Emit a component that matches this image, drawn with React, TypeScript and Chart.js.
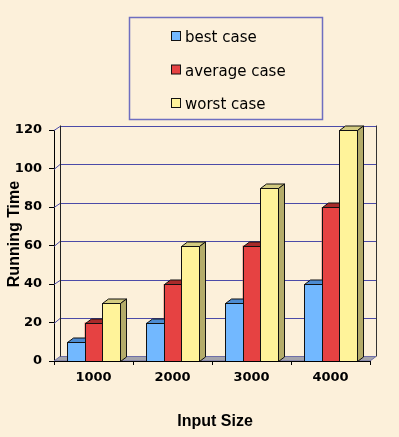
import React, { useEffect, useRef } from "react";
import { Chart, registerables } from "chart.js";

Chart.register(...registerables);

const categories = ["1000", "2000", "3000", "4000"];
const bestCase = [10, 20, 30, 40];
const averageCase = [20, 40, 60, 80];
const worstCase = [30, 60, 90, 120];
const seriesNames = ["best case", "average case", "worst case"];
const yTicks = [0, 20, 40, 60, 80, 100, 120];

const BG = "#FCF0DA";
const GRID = "#4B4BA8";
const frontColors = ["#72B8FF", "#E64242", "#FFF39A"];
const topColors = ["#4C8BD2", "#A82A2A", "#D3CB80"];
const sideColors = ["#3F78BA", "#8E2222", "#B4AC6A"];
const DX = 6;
const DY = -4.5;

const crisp = (v: number) => Math.round(v) + 0.5;

const threeD = {
  id: "threeD",
  beforeDraw(chart: any) {
    const ctx = chart.ctx;
    ctx.save();
    ctx.fillStyle = BG;
    ctx.fillRect(0, 0, chart.width, chart.height);
    ctx.restore();
  },
  beforeDatasetsDraw(chart: any) {
    const ctx = chart.ctx;
    const { left, right, top, bottom } = chart.chartArea;
    const ys = chart.scales.y;
    ctx.save();
    ctx.lineWidth = 1;
    // floor
    ctx.beginPath();
    ctx.moveTo(left, bottom);
    ctx.lineTo(right, bottom);
    ctx.lineTo(right + DX, bottom + DY);
    ctx.lineTo(left + DX, bottom + DY);
    ctx.closePath();
    ctx.fillStyle = "#A4A4AC";
    ctx.fill();
    ctx.strokeStyle = "#6E6EA8";
    ctx.stroke();
    // gridlines (side wall + back wall)
    ctx.strokeStyle = GRID;
    for (const v of yTicks) {
      if (v === 0) continue;
      const yf = ys.getPixelForValue(v);
      ctx.beginPath();
      ctx.moveTo(left, crisp(yf));
      ctx.lineTo(left + DX, crisp(yf + DY));
      ctx.lineTo(right + DX, crisp(yf + DY));
      ctx.stroke();
    }
    // back wall verticals
    ctx.strokeStyle = "#222";
    ctx.beginPath();
    ctx.moveTo(crisp(left + DX), top + DY);
    ctx.lineTo(crisp(left + DX), bottom + DY);
    ctx.stroke();
    ctx.strokeStyle = "#333";
    ctx.beginPath();
    ctx.moveTo(crisp(right + DX), top + DY);
    ctx.lineTo(crisp(right + DX), bottom + DY);
    ctx.stroke();
    ctx.restore();
  },
  afterDatasetsDraw(chart: any) {
    const ctx = chart.ctx;
    const { left, right, bottom } = chart.chartArea;
    const n = chart.data.labels.length;
    ctx.save();
    ctx.lineWidth = 1;
    ctx.strokeStyle = "#111";
    ctx.lineJoin = "miter";
    for (let j = 0; j < n; j++) {
      for (let i = 0; i < chart.data.datasets.length; i++) {
        const el: any = chart.getDatasetMeta(i).data[j];
        const l = Math.round(el.x - el.width / 2) + 0.5;
        const r = Math.round(el.x + el.width / 2) + 0.5;
        const t = Math.round(el.y) + 0.5;
        const b = Math.round(el.base) + 0.5;
        // front
        ctx.fillStyle = frontColors[i];
        ctx.fillRect(l, t, r - l, b - t);
        ctx.strokeRect(l, t, r - l, b - t);
        // top
        ctx.beginPath();
        ctx.moveTo(l, t);
        ctx.lineTo(l + DX, t + DY);
        ctx.lineTo(r + DX, t + DY);
        ctx.lineTo(r, t);
        ctx.closePath();
        ctx.fillStyle = topColors[i];
        ctx.fill();
        ctx.stroke();
        // side
        ctx.beginPath();
        ctx.moveTo(r, t);
        ctx.lineTo(r + DX, t + DY);
        ctx.lineTo(r + DX, b + DY);
        ctx.lineTo(r, b);
        ctx.closePath();
        ctx.fillStyle = sideColors[i];
        ctx.fill();
        ctx.stroke();
      }
    }
    // front axis lines
    ctx.strokeStyle = "#000";
    ctx.beginPath();
    ctx.moveTo(left, crisp(bottom));
    ctx.lineTo(right, crisp(bottom));
    ctx.stroke();
    ctx.restore();
  },
  afterDraw(chart: any) {
    const ctx = chart.ctx;
    ctx.save();
    // axis titles
    ctx.fillStyle = "#000";
    ctx.font = "bold 16px 'Liberation Sans'";
    ctx.textAlign = "center";
    ctx.textBaseline = "alphabetic";
    ctx.fillText("Input Size", 215, 426);
    ctx.translate(19, 234);
    ctx.rotate(-Math.PI / 2);
    ctx.fillText("Running Time", 0, 0);
    ctx.restore();

    // legend
    ctx.save();
    ctx.fillStyle = BG;
    ctx.fillRect(129, 17, 193, 102);
    ctx.strokeStyle = "#6E6EC0";
    ctx.lineWidth = 1.5;
    ctx.strokeRect(129.5, 17.5, 193, 102);
    ctx.font = "15px 'DejaVu Sans'";
    ctx.textAlign = "left";
    ctx.textBaseline = "alphabetic";
    const baselines = [42, 75.5, 109];
    seriesNames.forEach((name, i) => {
      const by = baselines[i];
      ctx.fillStyle = frontColors[i];
      ctx.fillRect(171.5, by - 10.5, 9, 9);
      ctx.strokeStyle = "#111";
      ctx.lineWidth = 1;
      ctx.strokeRect(171.5, by - 10.5, 9, 9);
      ctx.fillStyle = "#000";
      ctx.fillText(name, 185, by);
    });
    ctx.restore();
  },
};

export default function App() {
  const ref = useRef<HTMLCanvasElement | null>(null);
  useEffect(() => {
    document.body.style.margin = "0";
    document.body.style.background = BG;
    const canvas = ref.current!;
    const tickFont = { family: "'DejaVu Sans'", size: 13, weight: "bold" as const };
    const chart = new Chart(canvas, {
      type: "bar",
      data: {
        labels: categories,
        datasets: [
          { label: seriesNames[0], data: bestCase, backgroundColor: frontColors[0] },
          { label: seriesNames[1], data: averageCase, backgroundColor: frontColors[1] },
          { label: seriesNames[2], data: worstCase, backgroundColor: frontColors[2] },
        ],
      },
      options: {
        responsive: false,
        animation: false,
        devicePixelRatio: 1,
        layout: { padding: { top: 130, right: 29, left: 0, bottom: 0 } },
        datasets: { bar: { categoryPercentage: 0.67, barPercentage: 1 } },
        plugins: { legend: { display: false }, tooltip: { enabled: false } },
        scales: {
          x: {
            afterFit: (s: any) => {
              s.height = 76;
            },
            grid: {
              offset: true,
              drawOnChartArea: false,
              drawTicks: true,
              tickLength: 4,
              color: "#000",
            },
            border: { display: true, color: "#000" },
            ticks: { color: "#000", font: tickFont, padding: 5 },
          },
          y: {
            min: 0,
            max: 120,
            afterFit: (s: any) => {
              s.width = 54;
            },
            grid: {
              drawOnChartArea: false,
              drawTicks: true,
              tickLength: 5,
              color: "#000",
            },
            border: { display: true, color: "#000" },
            ticks: { stepSize: 20, color: "#000", font: tickFont, padding: 7 },
          },
        },
      },
      plugins: [threeD],
    });
    return () => chart.destroy();
  }, []);
  return (
    <div style={{ width: 399, height: 437, background: BG }}>
      <canvas ref={ref} width={399} height={437} style={{ display: "block" }} />
    </div>
  );
}
